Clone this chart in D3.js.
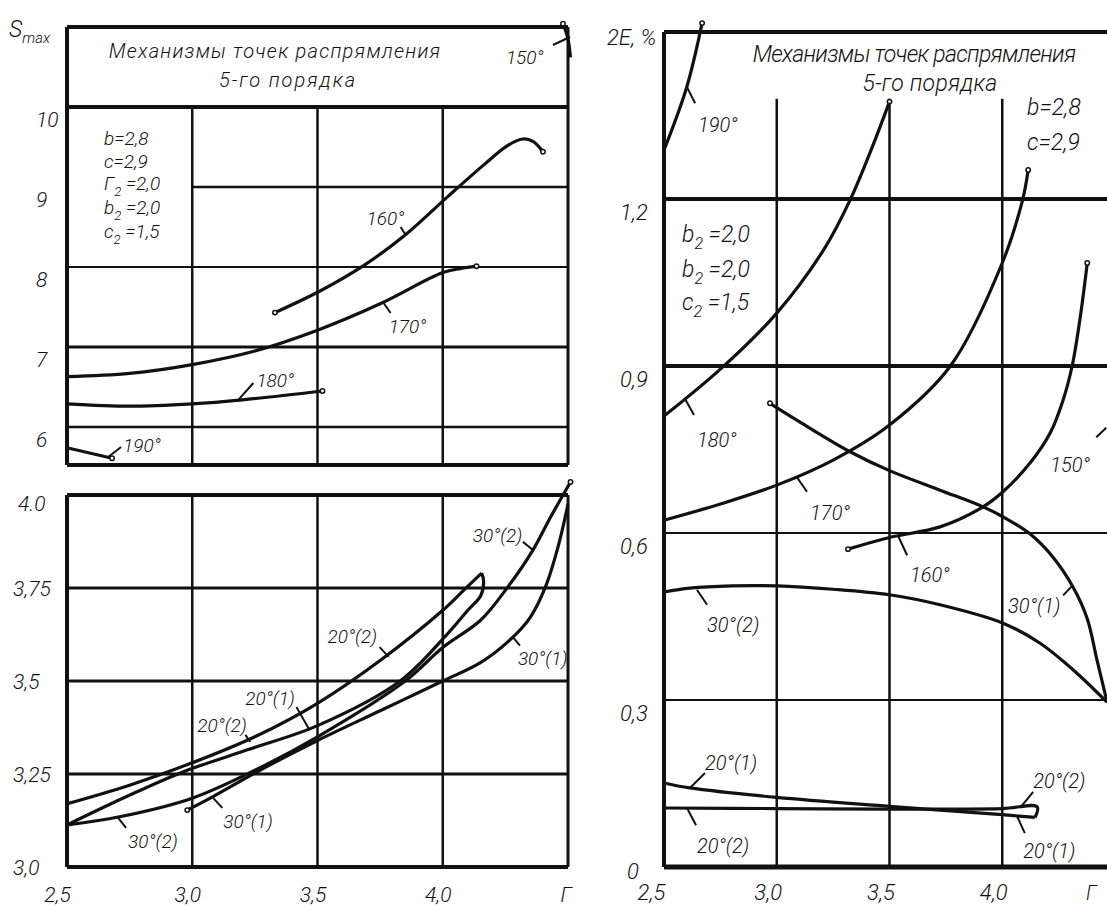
<!DOCTYPE html>
<html>
<head>
<meta charset="utf-8">
<script src="https://cdn.jsdelivr.net/npm/d3@7"></script>
<style>
body { margin: 0; background: #fff; }
svg text { font-family: Roboto, "DejaVu Sans Condensed", sans-serif; font-weight: 300; font-style: italic; fill: #111; }
</style>
</head>
<body>
<div id="chart"></div>
<script>
// ---- ticks ----
const rTicks = [2.5, 3.0, 3.5, 4.0];
const rTickLabels = ["2,5", "3,0", "3,5", "4,0"];
const sTopTicks = [10, 9, 8, 7, 6];
const sTopLabels = ["10", "9", "8", "7", "6"];
const sBotTicks = [4.0, 3.75, 3.5, 3.25, 3.0];
const sBotLabels = ["4.0", "3,75", "3,5", "3,25", "3,0"];
const eTicks = [1.2, 0.9, 0.6, 0.3, 0];
const eLabels = ["1,2", "0,9", "0,6", "0,3", "0"];

// ---- S_max, upper panel: [r, S] ----
const s150 = [[4.48, 11.04], [4.50, 10.85], [4.51, 10.62]];
const s160 = [[3.33, 7.43], [3.51, 7.70], [3.69, 8.03], [3.85, 8.40], [4.02, 8.88], [4.165, 9.28], [4.26, 9.52], [4.32, 9.60], [4.36, 9.57], [4.40, 9.44]];
const s170 = [[2.5, 6.63], [2.75, 6.67], [3.0, 6.78], [3.25, 6.95], [3.5, 7.21], [3.75, 7.54], [4.0, 7.93], [4.07, 7.98], [4.135, 8.01]];
const s180 = [[2.5, 6.29], [2.75, 6.26], [3.0, 6.29], [3.2, 6.34], [3.52, 6.45]];
const s190 = [[2.5, 5.74], [2.68, 5.61]];

// ---- S_max, lower panel: [r, S] ----
const s20_2 = [[2.5, 3.17], [2.75, 3.22], [3.0, 3.28], [3.25, 3.35], [3.5, 3.44], [3.75, 3.555], [4.0, 3.69], [4.085, 3.745], [4.155, 3.79]];
const s20_1 = [[2.5, 3.113], [2.74, 3.19], [2.96, 3.255], [3.22, 3.315], [3.5, 3.38], [3.83, 3.50], [4.01, 3.62], [4.1, 3.69], [4.152, 3.73], [4.163, 3.77], [4.155, 3.79]];
const s30_2 = [[2.5, 3.113], [2.71, 3.135], [3.0, 3.185], [3.25, 3.26], [3.5, 3.35], [3.85, 3.50], [4.0, 3.59], [4.152, 3.664], [4.26, 3.753], [4.36, 3.852], [4.43, 3.94], [4.51, 4.035]];
const s30_1 = [[2.98, 3.153], [3.085, 3.19], [3.27, 3.26], [3.5, 3.34], [3.75, 3.42], [4.0, 3.50], [4.152, 3.55], [4.28, 3.618], [4.35, 3.672], [4.41, 3.753], [4.46, 3.86], [4.5, 3.975]];

// ---- 2E, %: [r, 2E] ----
const e190 = [[2.5, 1.288], [2.6, 1.40], [2.669, 1.516]];
const e180 = [[2.5, 0.81], [2.76, 0.898], [3.0, 0.995], [3.21, 1.11], [3.325, 1.198], [3.43, 1.30], [3.5, 1.375]];
const e170 = [[2.5, 0.623], [2.75, 0.652], [3.0, 0.686], [3.25, 0.731], [3.5, 0.794], [3.77, 0.90], [4.0, 1.085], [4.09, 1.198], [4.115, 1.252]];
const e160 = [[3.316, 0.571], [3.5, 0.592], [3.724, 0.611], [3.915, 0.647], [4.003, 0.674], [4.124, 0.726], [4.213, 0.78], [4.27, 0.839], [4.31, 0.90], [4.346, 0.988], [4.377, 1.085]];
const e30_1 = [[2.97, 0.833], [3.1, 0.80], [3.325, 0.746], [3.5, 0.712], [3.724, 0.677], [3.915, 0.647], [4.003, 0.629], [4.124, 0.598], [4.226, 0.556], [4.315, 0.502], [4.377, 0.446], [4.42, 0.372], [4.465, 0.296]];
const e30_2 = [[2.5, 0.494], [2.615, 0.501], [2.8, 0.505], [3.0, 0.505], [3.25, 0.499], [3.5, 0.489], [3.724, 0.471], [4.003, 0.438], [4.168, 0.402], [4.315, 0.354], [4.465, 0.296]];
const e20_1 = [[2.5, 0.151], [2.615, 0.142], [3.0, 0.125], [3.5, 0.109], [4.0, 0.094], [4.145, 0.089]];
const e20_2 = [[2.5, 0.106], [3.0, 0.105], [3.5, 0.104], [4.0, 0.105], [4.155, 0.108], [4.145, 0.089]];

// ---- curve labels: p = point on curve, q = leader end, t = text start (data units) ----
const notesTop = [
  { text: "150°", p: [4.508, 10.875], q: [4.44, 10.775], t: [4.252, 10.54] },
  { text: "160°", p: [3.852, 8.40], q: [3.832, 8.50], t: [3.696, 8.525] },
  { text: "170°", p: [3.764, 7.55], q: [3.792, 7.425], t: [3.784, 7.175] },
  { text: "180°", p: [3.184, 6.34], q: [3.244, 6.55], t: [3.256, 6.50] },
  { text: "190°", p: [2.664, 5.625], q: [2.716, 5.75], t: [2.724, 5.69] }
];
const notesBot = [
  { text: "30°(2)", p: [4.36, 3.852], q: [4.32, 3.874], t: [4.12, 3.874] },
  { text: "30°(1)", p: [4.28, 3.618], q: [4.308, 3.595], t: [4.30, 3.543] },
  { text: "20°(2)", p: [3.784, 3.565], q: [3.748, 3.591], t: [3.54, 3.602] },
  { text: "20°(1)", p: [3.468, 3.368], q: [3.416, 3.43], t: [3.212, 3.435] },
  { text: "20°(2)", p: [3.232, 3.336], q: [3.212, 3.355], t: [3.02, 3.363] },
  { text: "30°(2)", p: [2.704, 3.132], q: [2.736, 3.105], t: [2.744, 3.051] },
  { text: "30°(1)", p: [3.084, 3.185], q: [3.12, 3.159], t: [3.124, 3.105] }
];
const notesE = [
  { text: "190°", p: [2.602, 1.401], q: [2.638, 1.372], t: [2.651, 1.320] },
  { text: "180°", p: [2.593, 0.841], q: [2.633, 0.812], t: [2.646, 0.754] },
  { text: "170°", p: [3.09, 0.70], q: [3.134, 0.674], t: [3.148, 0.623] },
  { text: "160°", p: [3.538, 0.595], q: [3.578, 0.560], t: [3.591, 0.512] },
  { text: "30°(1)", p: [4.31, 0.505], q: [4.27, 0.488], t: [4.026, 0.456] },
  { text: "30°(2)", p: [2.646, 0.498], q: [2.691, 0.471], t: [2.691, 0.422] },
  { text: "20°(1)", p: [2.615, 0.142], q: [2.682, 0.169], t: [2.682, 0.174] },
  { text: "20°(2)", p: [2.602, 0.106], q: [2.642, 0.075], t: [2.646, 0.025] },
  { text: "20°(2)", p: [4.079, 0.106], q: [4.137, 0.135], t: [4.137, 0.142] },
  { text: "20°(1)", p: [4.066, 0.091], q: [4.10, 0.061], t: [4.093, 0.016] },
  { text: "150°", p: [4.461, 0.789], q: [4.417, 0.772], t: [4.213, 0.71] }
];

const svg = d3.select("#chart").append("svg").attr("width", 1107).attr("height", 907);

// scales
const xL = d3.scaleLinear().domain([2.5, 4.5]).range([67, 568]);
const yTop = d3.scaleLinear().domain([6, 10]).range([427, 107]);
const yBot = d3.scaleLinear().domain([3, 4]).range([867, 495]);
const xR = d3.scaleLinear().domain([2.5, 4.5]).range([664, 1115]);
const yR = d3.scaleLinear().domain([0, 1.5]).range([867, 32]);

function hline(g, x, y, x0, x1, v, w) {
  g.append("line").attr("x1", x(x0)).attr("x2", x(x1)).attr("y1", y(v)).attr("y2", y(v))
    .attr("stroke", "#111").attr("stroke-width", w);
}
function vline(g, x, y, u, y0, y1, w) {
  g.append("line").attr("x1", x(u)).attr("x2", x(u)).attr("y1", y(y0)).attr("y2", y(y1))
    .attr("stroke", "#111").attr("stroke-width", w);
}

function drawCurves(g, curves, x, y) {
  const line = d3.line().x(d => x(d[0])).y(d => y(d[1])).curve(d3.curveCatmullRom.alpha(0.5));
  curves.forEach(c => {
    g.append("path").attr("d", line(c)).attr("fill", "none")
      .attr("stroke", "#111").attr("stroke-width", 3.2).attr("stroke-linejoin", "round");
  });
}
function drawDots(g, dots, x, y) {
  g.selectAll(null).data(dots).enter().append("circle")
    .attr("cx", d => x(d[0])).attr("cy", d => y(d[1])).attr("r", 2.2)
    .attr("fill", "#fff").attr("stroke", "#111").attr("stroke-width", 1.5);
}
function drawNotes(g, notes, x, y, size) {
  notes.forEach(n => {
    g.append("line").attr("x1", x(n.p[0])).attr("y1", y(n.p[1]))
      .attr("x2", x(n.q[0])).attr("y2", y(n.q[1]))
      .attr("stroke", "#111").attr("stroke-width", 2);
    g.append("text").attr("x", x(n.t[0])).attr("y", y(n.t[1]))
      .attr("font-size", size).text(n.text);
  });
}
function subText(g, x, y, size, base, sub, rest) {
  const t = g.append("text").attr("x", x).attr("y", y).attr("font-size", size);
  t.append("tspan").text(base);
  t.append("tspan").attr("font-size", size * 0.7).attr("dy", size * 0.3).text(sub);
  t.append("tspan").attr("dy", -size * 0.3).text(rest);
}
// spread a title to the drawn width with letter spacing
function spreadText(g, cx, y, size, width, str) {
  const t = g.append("text").attr("x", cx).attr("y", y).attr("text-anchor", "middle")
    .attr("font-size", size).text(str);
  const w = t.node().getComputedTextLength();
  t.attr("letter-spacing", (width - w) / (str.length - 1));
  return t;
}

// ================= upper left: S_max, obtuse angles =================
const gT = svg.append("g");
[9, 8, 7, 6].forEach((v, i) => hline(gT, xL, yTop, v === 9 ? 3.0 : 2.5, 4.5, v, [2.5, 2, 3, 2.5][i]));
[3.0, 3.5, 4.0].forEach(u => vline(gT, xL, yTop, u, 10, 5.525, 2.5));
hline(gT, xL, yTop, 2.5, 4.5, 10, 4);
// frame
hline(gT, xL, yTop, 2.5, 4.5, 11, 4);
hline(gT, xL, yTop, 2.5, 4.5, 5.525, 4);
vline(gT, xL, yTop, 2.5, 11, 5.525, 4);
vline(gT, xL, yTop, 4.5, 11, 5.525, 3);

drawCurves(gT, [s150, s160, s170, s180, s190], xL, yTop);
drawDots(gT, [s150[0], s160[0], s160[s160.length - 1], s170[s170.length - 1], s180[s180.length - 1], s190[s190.length - 1]], xL, yTop);
drawNotes(gT, notesTop, xL, yTop, 19);

const axT = gT.append("g").attr("transform", "translate(67,0)")
  .call(d3.axisLeft(yTop).tickValues(sTopTicks).tickFormat((d, i) => sTopLabels[i]).tickSize(0));
axT.select(".domain").remove();
axT.selectAll("text").attr("x", -31).attr("dy", "0.95em").attr("text-anchor", "start")
  .attr("font-size", 21).attr("font-family", null);

svg.append("text").attr("x", 9).attr("y", 37).attr("font-size", 23).text("S")
  .append("tspan").attr("font-size", 15).attr("dy", 6).text("max");

spreadText(gT, 275, 58, 20, 334, "Механизмы  точек  распрямления");
spreadText(gT, 288, 87, 20, 138, "5-го  порядка");

gT.append("text").attr("x", 104).attr("y", 145).attr("font-size", 19).text("b=2,8");
gT.append("text").attr("x", 104).attr("y", 168).attr("font-size", 19).text("c=2,9");
subText(gT, 104, 190, 19, "Г", "2", " =2,0");
subText(gT, 104, 214, 19, "b", "2", " =2,0");
subText(gT, 104, 238, 19, "c", "2", " =1,5");

// ================= lower left: S_max, 20° and 30° =================
const gB = svg.append("g");
[3.25, 3.5, 3.75].forEach(v => hline(gB, xL, yBot, 2.5, 4.5, v, 3));
[3.0, 3.5, 4.0].forEach(u => vline(gB, xL, yBot, u, 3, 4, 2.5));
hline(gB, xL, yBot, 2.5, 4.5, 4, 4);
hline(gB, xL, yBot, 2.5, 4.5, 3, 4);
vline(gB, xL, yBot, 2.5, 3, 4, 4);
vline(gB, xL, yBot, 4.5, 3, 4, 3);

drawCurves(gB, [s20_2, s20_1, s30_2, s30_1], xL, yBot);
drawDots(gB, [s30_1[0], s30_2[s30_2.length - 1]], xL, yBot);
drawNotes(gB, notesBot, xL, yBot, 19);

const axB = gB.append("g").attr("transform", "translate(67,0)")
  .call(d3.axisLeft(yBot).tickValues(sBotTicks).tickFormat((d, i) => sBotLabels[i]).tickSize(0));
axB.select(".domain").remove();
axB.selectAll("text").attr("x", (d, i) => i === 0 ? -49 : -54).attr("dy", (d, i) => i === 0 ? "0.75em" : "0.35em")
  .attr("text-anchor", "start").attr("font-size", 21).attr("font-family", null);

const axBx = gB.append("g").attr("transform", "translate(0,867)")
  .call(d3.axisBottom(xL).tickValues(rTicks).tickFormat((d, i) => rTickLabels[i]).tickSize(0));
axBx.select(".domain").remove();
axBx.selectAll("text").attr("y", 20).attr("dx", (d, i) => i === 0 ? -10 : -5)
  .attr("font-size", 21).attr("font-family", null);
gB.append("text").attr("x", xL(4.5) - 2).attr("y", 902).attr("text-anchor", "middle")
  .attr("font-size", 21).text("Г");

// ================= right: 2E, % =================
const gR = svg.append("g");
[1.2, 0.9, 0.6, 0.3].forEach((v, i) => hline(gR, xR, yR, 2.5, 4.5, v, [4, 4, 2, 2][i]));
[3.0, 3.5, 4.0].forEach(u => vline(gR, xR, yR, u, 1.38, 0, 2.5));
hline(gR, xR, yR, 2.5, 4.5, 1.5, 4);
hline(gR, xR, yR, 2.5, 4.5, 0, 5);
vline(gR, xR, yR, 2.5, 1.5, 0, 4);
vline(gR, xR, yR, 4.5, 1.5, 0, 4);

drawCurves(gR, [e190, e180, e170, e160, e30_1, e30_2, e20_1, e20_2], xR, yR);
drawDots(gR, [e190[e190.length - 1], e180[e180.length - 1], e170[e170.length - 1], e160[0], e160[e160.length - 1], e30_1[0]], xR, yR);
drawNotes(gR, notesE, xR, yR, 20);

const axR = gR.append("g").attr("transform", "translate(664,0)")
  .call(d3.axisLeft(yR).tickValues(eTicks).tickFormat((d, i) => eLabels[i]).tickSize(0));
axR.select(".domain").remove();
axR.selectAll("text").attr("x", (d, i) => i === 4 ? -37 : -44).attr("dy", (d, i) => i === 4 ? "0.5em" : "0.95em")
  .attr("text-anchor", "start").attr("font-size", 22).attr("font-family", null);

const axRx = gR.append("g").attr("transform", "translate(0,867)")
  .call(d3.axisBottom(xR).tickValues(rTicks).tickFormat((d, i) => rTickLabels[i]).tickSize(0));
axRx.select(".domain").remove();
axRx.selectAll("text").attr("y", 17).attr("dx", (d, i) => i === 0 ? -13 : -9)
  .attr("font-size", 22).attr("font-family", null);
gR.append("text").attr("x", 1086).attr("y", 900).attr("font-size", 20).text("Г");

svg.append("text").attr("x", 607).attr("y", 45).attr("font-size", 22).text("2E, %");

spreadText(gR, 914, 62, 23, 322, "Механизмы  точек  распрямления");
spreadText(gR, 930, 91, 23, 135, "5-го  порядка");

gR.append("text").attr("x", 1027).attr("y", 115).attr("font-size", 23).text("b=2,8");
gR.append("text").attr("x", 1027).attr("y", 150).attr("font-size", 23).text("c=2,9");
subText(gR, 682, 242, 23, "b", "2", " =2,0");
subText(gR, 682, 277, 23, "b", "2", " =2,0");
subText(gR, 682, 310, 23, "c", "2", " =1,5");
</script>
</body>
</html>
